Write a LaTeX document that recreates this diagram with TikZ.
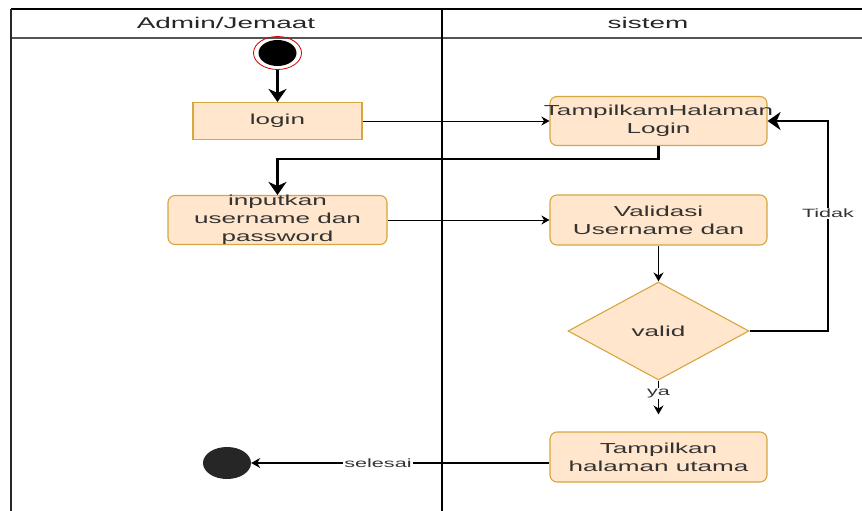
\documentclass[tikz,border=0pt]{standalone}
\usepackage{fontspec}
\setmainfont{Liberation Sans}[FakeStretch=1.8]
\usetikzlibrary{arrows.meta,shapes.geometric}

\begin{document}
\begin{tikzpicture}[x=1pt, y=-1pt,
  font=\fontsize{14.5}{18}\selectfont,
  aksi/.style={draw=boxLine, fill=boxFill, line width=1.1pt, rounded corners=7pt,
    minimum width=217pt, minimum height=49pt, inner sep=0pt},
  teks/.style={align=center, text=txtGray, inner sep=0pt},
  lbl/.style={fill=white, text=txtGray, inner sep=1pt, font=\fontsize{12}{14}\selectfont},
  tipis/.style={line width=1pt, -{Stealth[length=8pt, width=9pt, inset=2.5pt]}},
  sedang/.style={line width=1.4pt, -{Stealth[length=9pt, width=10pt, inset=3pt]}},
  tebal/.style={line width=2.6pt, -{Stealth[length=13pt, width=18pt, inset=4pt]}}]

% Warna
\definecolor{boxFill}{HTML}{FFE6CC}
\definecolor{boxLine}{HTML}{D6A63F}
\definecolor{txtGray}{HTML}{333333}
\definecolor{headGray}{HTML}{555555}

\useasboundingbox (0,0) rectangle (862,511);

% Swimlane
\draw[black, line width=2pt] (11,9) -- (862,9);
\draw[headGray, line width=2pt] (11,38) -- (862,38);
\draw[black!85, line width=2.2pt] (11,9) -- (11,511);
\draw[black, line width=2pt] (442,9) -- (442,511);
\node[text=black!85, font=\fontsize{15.5}{18}\selectfont] (lane1) at (226,23) {Admin/Jemaat};
\node[text=black!85, font=\fontsize{15.5}{18}\selectfont] (lane2) at (648,23) {sistem};

% Mulai
\node[ellipse, draw=red!80!black, line width=0.8pt, minimum width=48pt, minimum height=33pt, inner sep=0pt] (mulai) at (277.5,53) {};
\fill[black] (mulai.center) ellipse (19pt and 13pt);

% Aktivitas
\node[aksi, rounded corners=0pt, minimum width=169pt, minimum height=37pt,
  label={[teks]center:login}] (login) at (277.5,121) {};
\node[aksi, label={[teks]center:{\makebox[0pt]{TampilkamHalaman}\\Login}}] (tlogin) at (658.5,121) {};
\node[aksi, minimum width=219pt, label={[teks]center:{inputkan\\username dan\\password}}] (input) at (277.5,220) {};
\node[aksi, minimum height=50pt, label={[teks]center:{Validasi\\Username dan}}] (valid) at (658.5,220) {};
\node[diamond, draw=boxLine, fill=boxFill, line width=1.1pt, minimum width=181pt,
  minimum height=98pt, inner sep=0pt, text=txtGray] (cek) at (658.5,331) {valid};
\node[aksi, minimum height=50pt, label={[teks]center:{Tampilkan\\halaman utama}}] (utama) at (658.5,457) {};

% Akhir
\node[ellipse, fill=black!85, minimum width=48pt, minimum height=32pt, inner sep=0pt] (akhir) at (227,463) {};

% Alur
\coordinate (balik) at (828,121);
\draw[tebal] (mulai.south) -- (login.north);
\draw[tipis] (login.east) -- (tlogin.west);
\draw[tebal] (tlogin.south) -- ++(0,13) -| (input.north);
\draw[tipis] (input.east) -- (valid.west);
\draw[sedang] (valid.south) -- (cek.north);
\draw[tebal] (cek.east) -| node[lbl, pos=0.78] {Tidak} (balik) -- (tlogin.east);
\draw[sedang, shorten >=17pt] (cek.south) -- node[lbl, pos=0.25] {ya} (utama.north);
\draw[sedang] (utama.west |- akhir) -- node[lbl, pos=0.575] {selesai} (akhir.east);
\end{tikzpicture}
\end{document}
